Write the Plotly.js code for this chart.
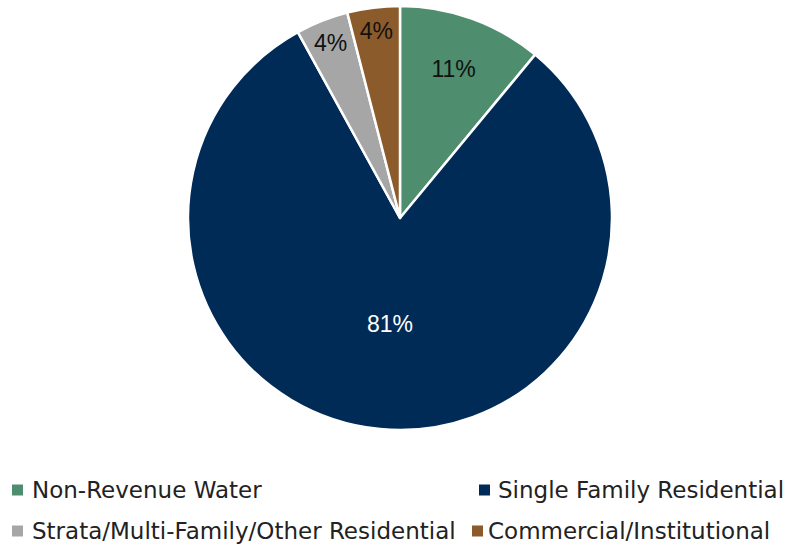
<!DOCTYPE html>
<html>
<head>
<meta charset="utf-8">
<script src="https://cdn.plot.ly/plotly-3.0.1.min.js"></script>
<style>
  html, body { margin: 0; padding: 0; background: #fff; }
  #plot_div { width: 789px; height: 548px; }
</style>
</head>
<body>
<div id="plot_div"></div>
<script>
// water use by customer class
const categories = ['Non-Revenue Water', 'Single Family Residential', 'Strata/Multi-Family/Other Residential', 'Commercial/Institutional'];
const shares = [11, 81, 4, 4];
const colors = ['#4e8d6e', '#002b57', '#a6a6a6', '#8b5b2b'];
const label_colors = ['#111111', '#ffffff', '#111111', '#111111'];

const W = 789, H = 548;
// pixel -> paper helpers (margins are zero)
const px = x => x / W;
const py = y => 1 - y / H;

const trace = {
    type: 'pie',
    labels: categories,
    values: shares,
    sort: false,
    direction: 'clockwise',
    rotation: 0,
    marker: { colors, line: { color: '#ffffff', width: 2.5 } },
    texttemplate: '%{value}%',
    textposition: 'inside',
    insidetextorientation: 'horizontal',
    textfont: { family: 'Liberation Sans Narrow, Arial Narrow, Liberation Sans, sans-serif', size: 23, color: label_colors },
    hoverinfo: 'label+percent',
    showlegend: false,
    domain: { x: [px(188), px(612)], y: [py(431), py(5)] },
};

// legend drawn Excel style: two columns, square swatch then label
// slot = [swatch left, text left, row centre] in pixels
const slots = [[12, 31, 490], [479, 497, 490], [12, 31, 531], [472, 487, 531]];
const SW = 11;

const shapes = categories.map((c, i) => {
    const [sx, , cy] = slots[i];
    return {
        type: 'rect', xref: 'paper', yref: 'paper',
        x0: px(sx), x1: px(sx + SW), y0: py(cy + SW / 2), y1: py(cy - SW / 2),
        fillcolor: colors[i], line: { width: 0 },
    };
});
const annotations = categories.map((c, i) => {
    const [, tx, cy] = slots[i];
    return {
        text: c, xref: 'paper', yref: 'paper', x: px(tx - 1), y: py(cy),
        xanchor: 'left', yanchor: 'middle', showarrow: false,
        font: { family: 'DejaVu Sans, Verdana, sans-serif', size: 23, color: '#222222' },
    };
});

const layout = {
    width: W,
    height: H,
    margin: { l: 0, r: 0, t: 0, b: 0 },
    paper_bgcolor: '#ffffff',
    showlegend: false,
    shapes,
    annotations,
};

Plotly.newPlot('plot_div', [trace], layout, { displayModeBar: false, responsive: false });
</script>
</body>
</html>
